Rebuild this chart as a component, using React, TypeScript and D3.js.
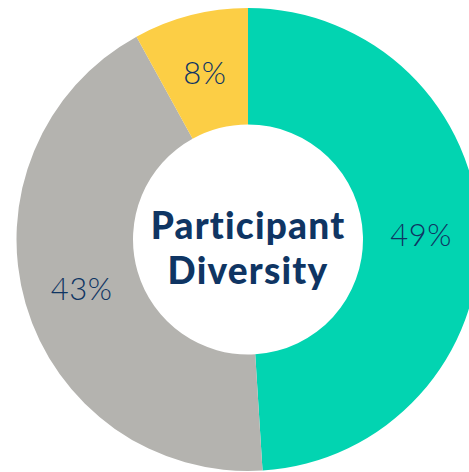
import React from 'react'
import * as d3 from 'd3'

// slice data (clockwise from 12 o'clock)
const categories = ['Group A', 'Group B', 'Group C']
const shares = [49, 43, 8]
const sliceColors = ['#02D4B1', '#B4B3AF', '#FCCE45']
const titleLines = ['Participant', 'Diversity']

const W = 469
const H = 472

export default function App() {
  const cx = 248
  const cy = 239.5
  const outerR = 231.5
  const innerR = 115

  const pie = d3.pie<number>().sort(null).value((d) => d)
  const arcs = pie(shares)
  const arc = d3.arc<d3.PieArcDatum<number>>().innerRadius(innerR).outerRadius(outerR)

  return (
    <svg
      width={W}
      height={H}
      style={{ position: 'absolute', left: 0, top: 0, background: '#fff' }}
    >
      <g transform={`translate(${cx},${cy})`}>
        {arcs.map((a, i) => (
          <path key={categories[i]} d={arc(a) || ''} fill={sliceColors[i]} />
        ))}
        {arcs.map((a, i) => {
          const [x, y] = arc.centroid(a)
          return (
            <text
              key={'l' + categories[i]}
              x={x}
              y={y}
              textAnchor="middle"
              dominantBaseline="central"
              fill="#0F3563"
              style={{ fontFamily: 'Lato, sans-serif', fontWeight: 300, fontSize: 31, letterSpacing: 0.5 }}
            >
              {shares[i]}%
            </text>
          )
        })}
        {titleLines.map((t, i) => (
          <text
            key={t}
            x={0}
            y={-1 + i * 45}
            textAnchor="middle"
            fill="#0F3563"
            style={{ fontFamily: 'Lato, sans-serif', fontWeight: 900, fontSize: 37, letterSpacing: 1.2 }}
          >
            {t}
          </text>
        ))}
      </g>
    </svg>
  )
}
